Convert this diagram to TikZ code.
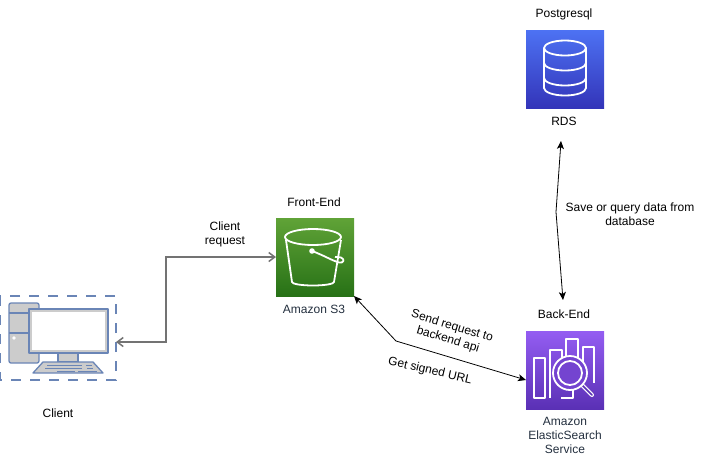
\documentclass[tikz,border=0pt]{standalone}
\usepackage{fontspec}
\setmainfont{Liberation Sans}
\usetikzlibrary{arrows.meta}
\definecolor{pcline}{HTML}{6A85B6}
\definecolor{awstext}{HTML}{232F3E}
\definecolor{rdstop}{HTML}{4D72F3}
\definecolor{rdsbot}{HTML}{3334B9}
\definecolor{stop}{HTML}{60A337}
\definecolor{sbot}{HTML}{277116}
\definecolor{estop}{HTML}{945DF2}
\definecolor{esbot}{HTML}{5A30B5}
\tikzset{
	txt/.style={font=\fontsize{12}{14}\selectfont,align=center,inner sep=0pt},
	awstxt/.style={txt,text=awstext},
	awsbox/.style={minimum size=78pt,inner sep=0pt,outer sep=0pt},
	icon/.style={draw=white,line width=1.8pt,line join=round},
	conn/.style={black,line width=0.8pt,{Stealth[length=8pt,width=7pt,inset=2pt]}-{Stealth[length=8pt,width=7pt,inset=2pt]}},
	grayconn/.style={draw=black!55,line width=1.5pt,{Straight Barb[length=6pt,width=9pt]}-{Straight Barb[length=6pt,width=9pt]}},
	pcpart/.style={draw=pcline,fill=black!20,line width=1.3pt,line join=round},
	pckey/.style={draw=pcline,line width=1pt}
}
\begin{document}
\begin{tikzpicture}[x=1pt,y=-1pt]
	\useasboundingbox (0,0) rectangle (716,459);

	%Boxes
	\node[awsbox,top color=rdstop,bottom color=rdsbot] (rds) at (565,69) {};
	\node[awsbox,top color=stop,bottom color=sbot] (s3) at (315,257) {};
	\node[awsbox,top color=estop,bottom color=esbot] (es) at (565,370) {};

	%Database icon
	\begin{scope}[shift={(rds.center)}]
		\draw[icon] (0,-21) ellipse (21 and 7.5);
		\draw[icon] (-21,-21) -- (-21,19) arc[start angle=180,end angle=0,x radius=21,y radius=7.5] -- (21,-21);
		\draw[icon] (-21,-6) arc[start angle=180,end angle=0,x radius=21,y radius=7.5];
		\draw[icon] (-21,9) arc[start angle=180,end angle=0,x radius=21,y radius=7.5];
	\end{scope}

	%Bucket icon
	\begin{scope}[shift={(s3.center)}]
		\draw[icon] (-2,-20) ellipse (28 and 8);
		\draw[icon] (-29,-17) -- (-23,25) arc[start angle=180,end angle=0,x radius=21,y radius=3.5] -- (26,-17);
		\draw[icon] (-3,-6) .. controls (8,-2) and (18,4) .. (24,5.5) .. controls (29,6.5) and (30,2) .. (26,0.5) .. controls (24,0) and (22,0) .. (20,0);
		\fill[white] (-3,-6) circle (2.8);
	\end{scope}

	%Search icon
	\begin{scope}[shift={(es.center)}]
		\draw[icon] (-31,-12) rectangle (-20,28);
		\draw[icon] (-15,28) -- (-15,-20) -- (-3,-20) -- (-3,-10);
		\draw[icon] (-4,28) -- (8,28) -- (8,14);
		\draw[icon] (1,-12) -- (1,-31) -- (13,-31) -- (13,-8);
		\draw[icon] (18,12) -- (18,-23) -- (29,-23) -- (29,13);
		\draw[draw=white,line width=4pt,line cap=round] (16,14) -- (27,25);
		\draw[draw=esbot,line width=1.6pt,line cap=round] (16,14) -- (27,25);
		\draw[icon,fill=estop!45!esbot] (5,3) circle (17);
		\draw[icon] (5,3) circle (12);
	\end{scope}

	%Client
	\draw[pcline,line width=1.5pt,dash pattern=on 10pt off 9pt] (0,296) rectangle (116,380);
	\draw[pcpart,rounded corners=2pt] (9,303) rectangle (39,363);
	\draw[pcline,line width=1.3pt] (9,313) -- (29,313) (9,333) -- (29,333);
	\fill[white] (14,338) circle (1.8);
	\draw[pcpart] (58,353) rectangle (78,362);
	\draw[pcpart] (29,309) rectangle (108,353);
	\fill[white] (32,312) rectangle (105,350);
	\draw[pcpart] (43,362) -- (93,362) -- (103,373) -- (33,373) -- cycle;
	\draw[pckey] (47,365) -- (82,365) (86,365) -- (92,365);
	\draw[pckey] (45,368) -- (82,368) (87,368) -- (93,368);
	\draw[pckey] (57,371) -- (75,371) (78,371) -- (97,371);

	%Labels
	\node[txt] (pgLabel) at (564,14) {Postgresql};
	\node[txt] (rdsLabel) at (564,121) {RDS};
	\node[txt] (feLabel) at (314,202) {Front-End};
	\node[awstxt] (s3Label) at (314,309) {Amazon S3};
	\node[txt] (beLabel) at (564,314) {Back-End};
	\node[awstxt] (esLabel) at (565,435) {Amazon\\ElasticSearch\\Service};
	\node[txt] (clientLabel) at (58,413) {Client};
	\node[txt] (reqLabel) at (225,234) {Client\\request};
	\node[txt] (saveLabel) at (630,214) {Save or query data from\\database};
	\node[txt,rotate=-17] (sendLabel) at (450,333) {Send request to\\backend api};
	\node[txt,rotate=-13] (urlLabel) at (430,371) {Get signed URL};

	%Connectors
	\coordinate (client) at (116,342);
	\coordinate (rdsEnd) at (561,141);
	\coordinate (rdsBend) at (556,212);
	\coordinate (beEnd) at (563,300);
	\coordinate (siteBend) at (396,341);
	\coordinate (esEnd) at (526,380);
	\draw[grayconn] (client) -- (166,342) -- (166,257) -- (s3.west);
	\draw[conn] (s3.south east) -- (siteBend) -- (esEnd);
	\draw[conn] (rdsEnd) -- (rdsBend) -- (beEnd);
\end{tikzpicture}
\end{document}
